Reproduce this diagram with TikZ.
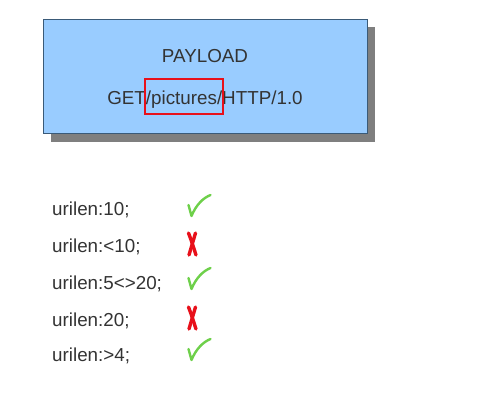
\documentclass[tikz,border=0pt]{standalone}
\usepackage{fontspec}
\setmainfont{Liberation Sans}
\definecolor{txt}{HTML}{333333}
\definecolor{boxfill}{HTML}{99CCFF}
\definecolor{boxline}{HTML}{3A5A78}
\definecolor{shadowc}{HTML}{7F7F7F}
\definecolor{okgreen}{HTML}{6ED04A}
\definecolor{badred}{HTML}{E8101A}
\begin{document}
\begin{tikzpicture}[x=1pt,y=-1pt,
  lbl/.style={anchor=base west,inner sep=0pt,text=txt,font=\fontsize{18.8}{21}\selectfont},
  ctr/.style={anchor=base,inner sep=0pt,text=txt,font=\fontsize{18.8}{21}\selectfont},
  okmark/.style={draw=okgreen,line width=2.4pt,line cap=round,line join=round},
  badmark/.style={draw=badred,line width=3.4pt,line cap=round}]
\useasboundingbox (0,0) rectangle (482,402);
\fill[white] (0,0) rectangle (482,402);
% shadow and box
\fill[shadowc] (51,27) rectangle (375,142);
\draw[boxline,fill=boxfill,line width=0.8pt] (43,19) rectangle (367,133);
\node[ctr] (payload) at (205,62) {PAYLOAD};
\node[ctr] (get) at (205,104) {GET/pictures/HTTP/1.0};
\draw[badred,line width=1.2pt] (145,79) rectangle (223,114);
% list
\node[lbl] (r1) at (52,215) {urilen:10;};
\node[lbl] (r2) at (52,252) {urilen:<10;};
\node[lbl] (r3) at (52,289) {urilen:5<>20;};
\node[lbl] (r4) at (52,326) {urilen:20;};
\node[lbl] (r5) at (52,361) {urilen:>4;};
% marks
\foreach \yy in {210,283,354}{
  \draw[okmark] (188.5,\yy-5) .. controls (190,\yy+1) .. (191.5,\yy+6) .. controls (196,\yy-5) and (203,\yy-12) .. (210.5,\yy-15);
}
\foreach \yy in {244,318}{
  \draw[badmark] (188.5,\yy-11) .. controls (191.5,\yy-3) .. (196,\yy+11);
  \draw[badmark] (195.5,\yy-11) .. controls (192.5,\yy) .. (189,\yy+11);
}
\end{tikzpicture}
\end{document}
